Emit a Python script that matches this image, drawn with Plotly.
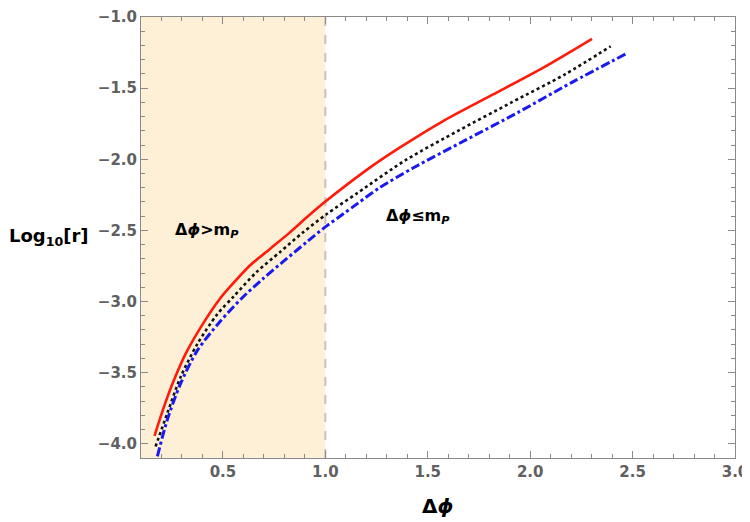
import plotly.graph_objects as go

# Data
red_x = [0.166, 0.212, 0.260, 0.317, 0.390, 0.487, 0.535, 0.633, 0.730, 0.827, 0.908, 0.997,
         1.085, 1.231, 1.361, 1.571, 1.814, 2.073, 2.302]
red_y = [-3.944, -3.741, -3.556, -3.370, -3.185, -2.977, -2.896, -2.745, -2.630, -2.514, -2.410, -2.301,
         -2.201, -2.045, -1.920, -1.735, -1.548, -1.348, -1.153]

black_x = [0.171, 0.228, 0.293, 0.374, 0.471, 0.552, 0.665, 0.778, 0.891, 1.005,
           1.158, 1.393, 1.652, 1.911, 2.170, 2.393]
black_y = [-4.019, -3.787, -3.532, -3.301, -3.092, -2.965, -2.792, -2.653, -2.514, -2.387,
           -2.236, -2.005, -1.797, -1.599, -1.403, -1.206]

blue_x = [0.180, 0.228, 0.293, 0.374, 0.487, 0.592, 0.697, 0.811, 0.908, 0.997,
          1.085, 1.158, 1.264, 1.430, 1.684, 1.943, 2.202, 2.477]
blue_y = [-4.088, -3.833, -3.578, -3.347, -3.139, -2.977, -2.838, -2.699, -2.583, -2.479,
          -2.387, -2.310, -2.201, -2.060, -1.866, -1.669, -1.461, -1.252]

x_range = [0.1, 3.0]
y_range = [-4.1, -1.0]
planck_bound = 1.0

fig = go.Figure()

fig.add_shape(type="rect", xref="x", yref="paper", x0=x_range[0], x1=planck_bound, y0=0, y1=1,
              fillcolor="#FDF0D7", line_width=0, layer="below")
fig.add_shape(type="line", xref="x", yref="paper", x0=planck_bound, x1=planck_bound, y0=0, y1=1,
              line=dict(color="#C9C2B6", width=2, dash="dash"), layer="below")

fig.add_trace(go.Scatter(x=red_x, y=red_y, mode="lines",
                         line=dict(color="#FF1A0A", width=2.6, shape="spline", smoothing=0.8),
                         showlegend=False))
fig.add_trace(go.Scatter(x=black_x, y=black_y, mode="lines",
                         line=dict(color="#111111", width=2.6, dash="dot", shape="spline", smoothing=0.8),
                         showlegend=False))
fig.add_trace(go.Scatter(x=blue_x, y=blue_y, mode="lines",
                         line=dict(color="#1A1AF0", width=3, dash="dashdot", shape="spline", smoothing=0.8),
                         showlegend=False))

FONT = "DejaVu Sans"

fig.add_annotation(x=0.42, y=-2.5, text="<b>Δ<i>ϕ</i>>m<sub><i>P</i></sub></b>", showarrow=False,
                   font=dict(family=FONT, size=16, color="black"))
fig.add_annotation(x=1.45, y=-2.40, text="<b>Δ<i>ϕ</i>≤m<sub><i>P</i></sub></b>", showarrow=False,
                   font=dict(family=FONT, size=16, color="black"))

fig.add_annotation(xref="paper", yref="paper", x=-0.1546, y=0.501, xanchor="center", yanchor="middle",
                   text="<b>Log<sub>10</sub>[r]</b>", showarrow=False,
                   font=dict(family=FONT, size=18, color="black"))
fig.add_annotation(xref="paper", yref="paper", x=0.499, y=-0.1088, xanchor="center", yanchor="middle",
                   text="<b>Δ<i>ϕ</i></b>", showarrow=False,
                   font=dict(family=FONT, size=20, color="black"))

axis_common = dict(showgrid=False, zeroline=False, showline=True, linecolor="#8A8A8A", linewidth=1,
                   mirror="allticks", ticks="inside", ticklen=7, tickcolor="#8A8A8A", tickwidth=1,
                   tickfont=dict(family=FONT, size=15, color="#606060", weight="bold"),
                   tickformat=".1f", automargin=False, ticklabeloverflow="allow")

fig.update_xaxes(range=x_range, dtick=0.5, tick0=0.5,
                 minor=dict(ticks="inside", ticklen=4, tickcolor="#8A8A8A", dtick=0.1, tick0=0.1, showgrid=False),
                 **axis_common)
fig.update_yaxes(range=y_range, dtick=0.5, tick0=-1.0,
                 minor=dict(ticks="inside", ticklen=4, tickcolor="#8A8A8A", dtick=0.1, tick0=-1.0, showgrid=False),
                 **axis_common)

# page body adds an 8px offset; figure sized so the plot area lands where the reference has it
fig.update_layout(width=742, height=514, margin=dict(l=133, r=15, t=9, b=64),
                  plot_bgcolor="white", paper_bgcolor="white")

fig.write_html("out.html")
